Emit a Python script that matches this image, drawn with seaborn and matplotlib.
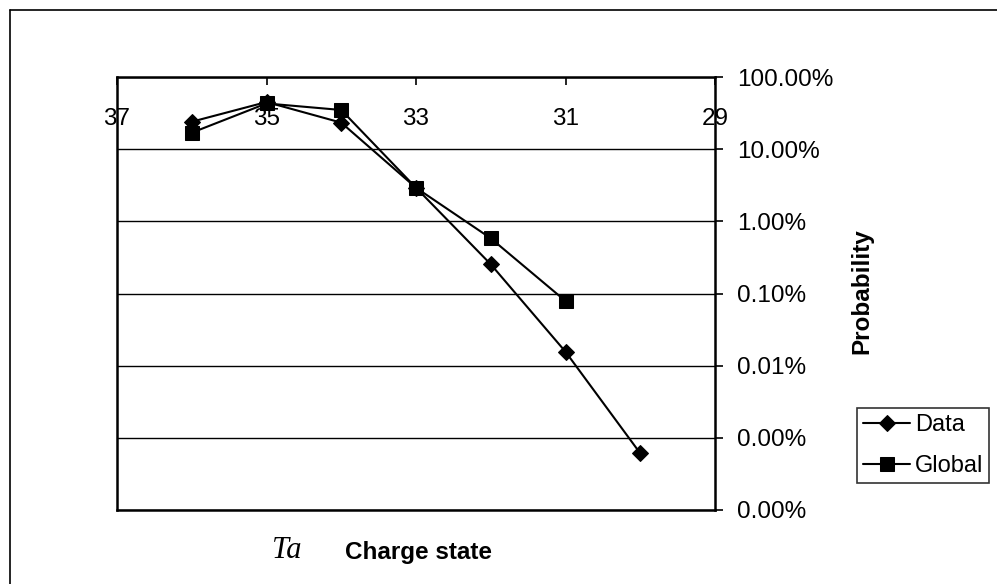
import matplotlib
matplotlib.use("Agg")
import matplotlib.pyplot as plt
import seaborn as sns
import pandas as pd
from matplotlib.lines import Line2D

# ---- data ----
charge_data = [36, 35, 34, 33, 32, 31, 30]
prob_data = [0.240, 0.45, 0.233, 0.0292, 0.00254, 0.000156, 6.1e-6]
charge_global = [36, 35, 34, 33, 32, 31]
prob_global = [0.169, 0.43, 0.349, 0.0292, 0.00582, 0.000787]

x_ticks = [37, 35, 33, 31, 29]
x_tick_labels = ["37", "35", "33", "31", "29"]
y_ticks = [1, 0.1, 0.01, 0.001, 0.0001, 0.00001, 0.000001]
y_tick_labels = ["100.00%", "10.00%", "1.00%", "0.10%", "0.01%", "0.00%", "0.00%"]

sns.set_theme(style="white")
plt.rcParams["font.family"] = ["Liberation Sans", "DejaVu Sans"]

W, H = 997, 584
fig = plt.figure(figsize=(W / 100, H / 100), dpi=100)
fig.patch.set_facecolor("white")

left, right, top, bottom = 117, 715, 77, 510
ax = fig.add_axes([left / W, 1 - bottom / H, (right - left) / W, (bottom - top) / H])
ax.set_facecolor("white")

df_d = pd.DataFrame({"charge": charge_data, "prob": prob_data})
df_g = pd.DataFrame({"charge": charge_global, "prob": prob_global})

sns.lineplot(data=df_d, x="charge", y="prob", ax=ax, color="black", lw=1.5,
             marker="D", markersize=8, markeredgecolor="black", label="Data")
sns.lineplot(data=df_g, x="charge", y="prob", ax=ax, color="black", lw=1.5,
             marker="s", markersize=9.5, markeredgecolor="black", label="Global")

ax.set_yscale("log")
ax.set_ylim(1e-6, 1)
ax.set_xlim(37, 29)

# grid lines
ax.yaxis.grid(True, which="major", color="black", lw=1.0)
ax.xaxis.grid(False)
ax.minorticks_off()

# y axis on the right
ax.yaxis.set_label_position("right")
ax.yaxis.tick_right()
ax.set_yticks(y_ticks)
ax.set_yticklabels(y_tick_labels)
ax.tick_params(axis="y", which="major", direction="out", length=6, width=1.2,
               color="black", pad=10, labelsize=17.5, labelcolor="black",
               left=False, right=True, labelleft=False, labelright=True)

# x axis at the top, labels inside
ax.set_xticks(x_ticks)
ax.set_xticklabels(x_tick_labels)
ax.tick_params(axis="x", which="major", direction="in", length=6, width=1.2,
               color="black", pad=-22, labelsize=17.5, labelcolor="black",
               top=True, bottom=False, labeltop=True, labelbottom=False)
for t in ax.xaxis.get_major_ticks():
    t.label2.set_va("top")

for s in ax.spines.values():
    s.set_visible(True)
    s.set_color("black")
    s.set_linewidth(1.8)

ax.set_xlabel("")
ax.set_ylabel("")

fig.text(862 / W, 1 - 291 / H, "Probability", rotation=90, ha="center", va="center",
         fontsize=17.5, fontweight="bold", color="black")
fig.text(418 / W, 1 - 553 / H, "Charge state", ha="center", va="center",
         fontsize=17.5, fontweight="bold", color="black")
fig.text(287 / W, 1 - 551 / H, "Ta", ha="center", va="center",
         fontsize=22, fontstyle="italic", family=["Liberation Serif", "DejaVu Serif"],
         color="black")

leg = ax.legend(loc="upper left", bbox_to_anchor=(857 / W, 1 - 408 / H),
                bbox_transform=fig.transFigure, frameon=True, fancybox=False,
                shadow=False, fontsize=17, handlelength=2.0, handletextpad=0.2,
                borderpad=0.25, labelspacing=0.8, borderaxespad=0)
leg.get_frame().set_edgecolor("black")
leg.get_frame().set_linewidth(1.2)
for txt in leg.get_texts():
    txt.set_color("black")

# outer chart border (left and top edges visible)
fig.add_artist(Line2D([10 / W, 10 / W], [0, 1 - 10 / H], transform=fig.transFigure,
                      color="black", lw=1.2))
fig.add_artist(Line2D([10 / W, 1], [1 - 10 / H, 1 - 10 / H], transform=fig.transFigure,
                      color="black", lw=1.2))

fig.savefig("out.png", dpi=100, facecolor="white")
